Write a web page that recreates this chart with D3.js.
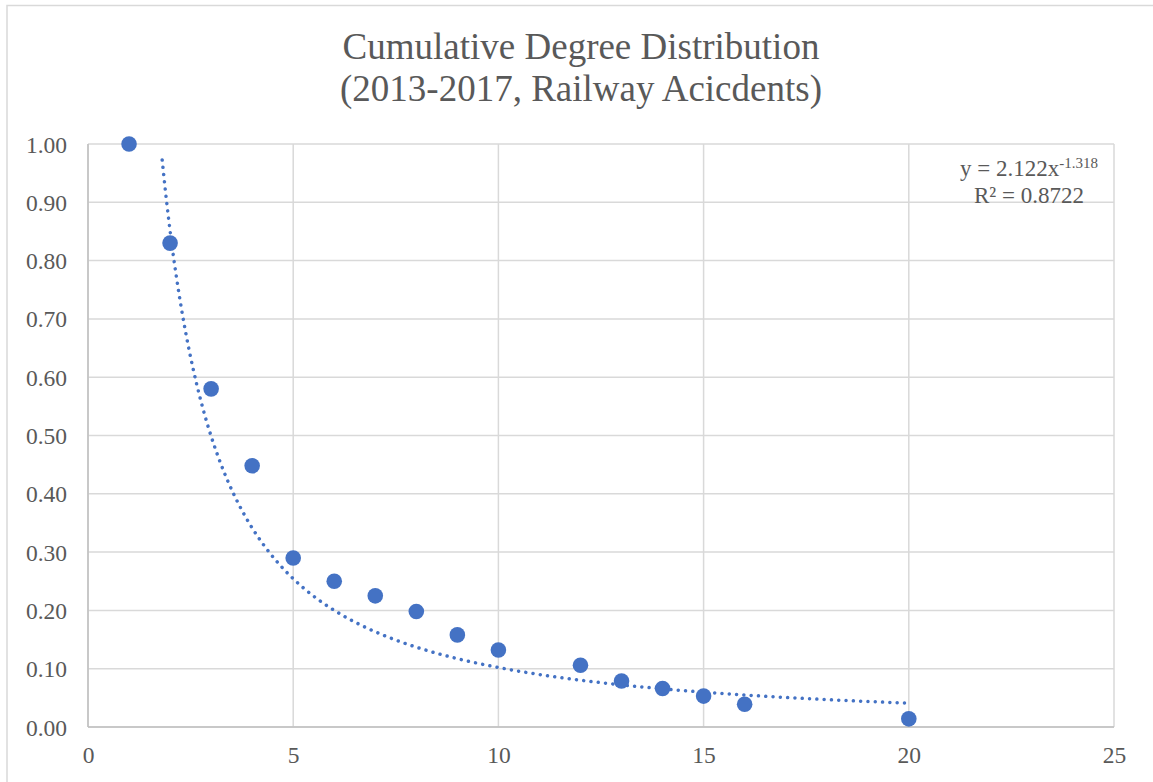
<!DOCTYPE html>
<html>
<head>
<meta charset="utf-8">
<script src="https://cdn.jsdelivr.net/npm/d3@7/dist/d3.min.js"></script>
<style>
  html, body { margin: 0; padding: 0; background: #fff; }
  svg { display: block; }
  text { font-family: "Liberation Serif", "Times New Roman", serif; fill: #595959; }
</style>
</head>
<body>
<script>
// Cumulative degree distribution, railway accidents 2013-2017
const degrees = [1, 2, 3, 4, 5, 6, 7, 8, 9, 10, 12, 13, 14, 15, 16, 20];
const cumulative = [1.00, 0.830, 0.580, 0.448, 0.290, 0.250, 0.225, 0.198, 0.158, 0.132, 0.106, 0.079, 0.066, 0.053, 0.039, 0.014];

// power-law fit reported on the chart: y = a * x^b
const fitA = 2.122;
const fitB = -1.318;
const fitR2 = 0.8722;

const xTicks = [0, 5, 10, 15, 20, 25];
const yTicks = [0, 0.1, 0.2, 0.3, 0.4, 0.5, 0.6, 0.7, 0.8, 0.9, 1.0];
const titleLines = ["Cumulative Degree Distribution", "(2013-2017, Railway Acicdents)"];

const W = 1153, H = 782;
const plot = { left: 88, right: 1114, top: 144, bottom: 727 };

const svg = d3.select("body").append("svg").attr("width", W).attr("height", H);

// chart frame
svg.append("path")
  .attr("d", `M7,${H + 2} V5.5 H${W + 2}`)
  .attr("fill", "none").attr("stroke", "#d9d9d9").attr("stroke-width", 1.5);

const x = d3.scaleLinear().domain([0, 25]).range([plot.left, plot.right]);
const y = d3.scaleLinear().domain([0, 1]).range([plot.bottom, plot.top]);

// gridlines
const grid = svg.append("g");
grid.selectAll("line.h").data(yTicks).join("line")
  .attr("x1", plot.left).attr("x2", plot.right)
  .attr("y1", d => y(d)).attr("y2", d => y(d))
  .attr("stroke", "#d9d9d9").attr("stroke-width", 1.5);
grid.selectAll("line.v").data(xTicks).join("line")
  .attr("y1", plot.top).attr("y2", plot.bottom)
  .attr("x1", d => x(d)).attr("x2", d => x(d))
  .attr("stroke", "#d9d9d9").attr("stroke-width", 1.5);

// axis lines
svg.append("line").attr("x1", plot.left).attr("x2", plot.right)
  .attr("y1", plot.bottom).attr("y2", plot.bottom)
  .attr("stroke", "#bfbfbf").attr("stroke-width", 1.5);
svg.append("line").attr("x1", plot.left).attr("x2", plot.left)
  .attr("y1", plot.top).attr("y2", plot.bottom)
  .attr("stroke", "#bfbfbf").attr("stroke-width", 1.5);

// axes (labels only)
const xAxis = d3.axisBottom(x).tickValues(xTicks).tickSize(0).tickPadding(0).tickFormat(d3.format("d"));
const gx = svg.append("g").attr("transform", `translate(0,${plot.bottom})`).call(xAxis);
gx.select(".domain").remove();
gx.selectAll("text").attr("y", 36).attr("dy", null)
  .style("font-size", "23.5px").style("fill", "#595959")
  .style("font-family", "'Liberation Serif', serif");

const yAxis = d3.axisLeft(y).tickValues(yTicks).tickSize(0).tickPadding(0).tickFormat(d3.format(".2f"));
const gy = svg.append("g").attr("transform", `translate(${plot.left},0)`).call(yAxis);
gy.select(".domain").remove();
gy.selectAll("text").attr("x", -21).attr("dy", "0.34em")
  .style("font-size", "23.5px").style("fill", "#595959")
  .style("font-family", "'Liberation Serif', serif");

// fitted trendline over the data range, clipped to the plot area
svg.append("clipPath").attr("id", "plotClip")
  .append("rect").attr("x", plot.left).attr("y", plot.top)
  .attr("width", plot.right - plot.left).attr("height", plot.bottom - plot.top);

const xMin = d3.min(degrees), xMax = d3.max(degrees);
const fitPts = d3.range(0, 401).map(i => {
  const xv = xMin + (xMax - xMin) * i / 400;
  return [xv, fitA * Math.pow(xv, fitB)];
}).filter(p => p[1] <= 1.0);

svg.append("path")
  .datum(fitPts)
  .attr("clip-path", "url(#plotClip)")
  .attr("d", d3.line().x(d => x(d[0])).y(d => y(d[1])))
  .attr("fill", "none").attr("stroke", "#4472c4")
  .attr("stroke-width", 3.5).attr("stroke-linecap", "round")
  .attr("stroke-dasharray", "0.01 7.3");

// data points
svg.append("g").selectAll("circle")
  .data(degrees.map((d, i) => [d, cumulative[i]]))
  .join("circle")
  .attr("cx", d => x(d[0])).attr("cy", d => y(d[1]))
  .attr("r", 7.8).attr("fill", "#4472c4");

// trendline equation label
const eq = svg.append("g").attr("transform", "translate(1029,0)");
const l1 = eq.append("text").attr("x", 0).attr("y", 176).attr("text-anchor", "middle")
  .style("font-size", "23px");
l1.append("tspan").text(`y = ${fitA}x`);
l1.append("tspan").attr("dy", -8).style("font-size", "15px").text(`${fitB}`);
eq.append("text").attr("x", 0).attr("y", 203).attr("text-anchor", "middle")
  .style("font-size", "23px").text(`R² = ${fitR2}`);

// title
svg.append("g").selectAll("text").data(titleLines).join("text")
  .attr("x", 581).attr("y", (d, i) => 59 + i * 42)
  .attr("text-anchor", "middle")
  .style("font-size", "37px")
  .text(d => d);
</script>
</body>
</html>
